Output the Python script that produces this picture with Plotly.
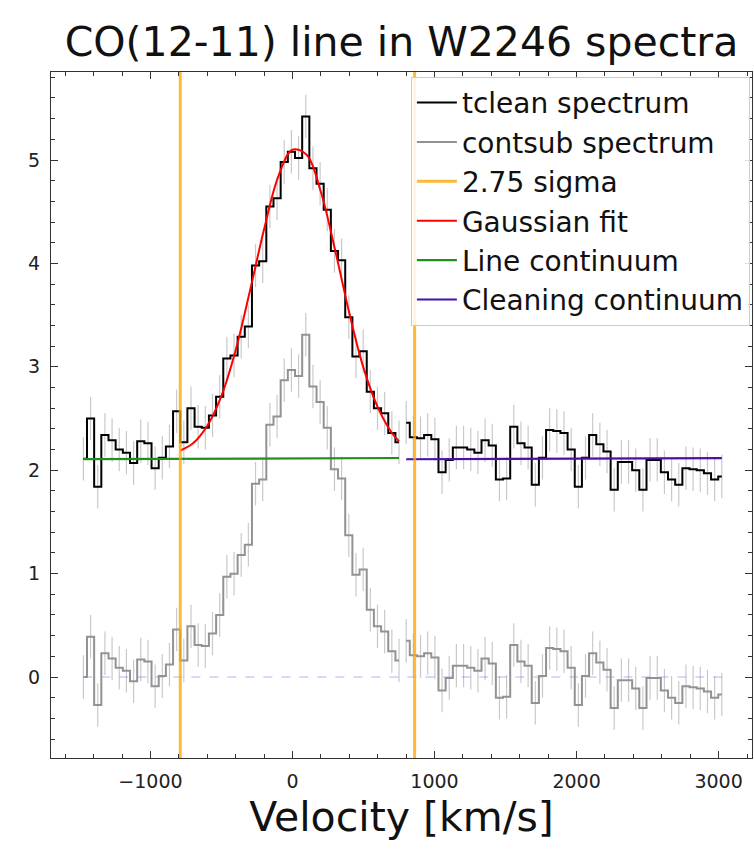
import plotly.graph_objects as go

# ---------------- data ----------------
# channel velocities [km/s] : line window piece and cleaning-continuum piece
vel_line = [-1472.0, -1421.5, -1371.0, -1320.5, -1270.0, -1219.5, -1169.0, -1118.5,
            -1068.0, -1017.5, -967.0, -916.5, -866.0, -815.5, -765.0, -714.5,
            -664.0, -613.5, -563.0, -512.5, -462.0, -411.5, -361.0, -310.5,
            -260.0, -209.5, -159.0, -108.5, -58.0, -7.5, 43.0, 93.5,
            144.0, 194.5, 245.0, 295.5, 346.0, 396.5, 447.0, 497.5,
            548.0, 598.5, 649.0, 699.5, 750.0]
vel_cont = [800.5, 851.0, 901.5, 952.0, 1002.5, 1053.0, 1103.5, 1154.0,
            1204.5, 1255.0, 1305.5, 1356.0, 1406.5, 1457.0, 1507.5, 1558.0,
            1608.5, 1659.0, 1709.5, 1760.0, 1810.5, 1861.0, 1911.5, 1962.0,
            2012.5, 2063.0, 2113.5, 2164.0, 2214.5, 2265.0, 2315.5, 2366.0,
            2416.5, 2467.0, 2517.5, 2568.0, 2618.5, 2669.0, 2719.5, 2770.0,
            2820.5, 2871.0, 2921.5, 2972.0, 3022.5]

tclean_line = [2.11, 2.50, 1.84, 2.34, 2.29, 2.20, 2.17, 2.07, 2.28, 2.26,
               2.02, 2.12, 2.23, 2.57, 2.27, 2.60, 2.42, 2.41, 2.53, 2.71,
               3.08, 3.11, 3.29, 3.39, 3.98, 4.02, 4.55, 4.63, 4.98, 5.08,
               5.02, 5.42, 4.92, 4.77, 4.52, 4.12, 4.03, 3.48, 3.10, 3.15,
               2.76, 2.60, 2.55, 2.36, 2.27]
tclean_cont = [2.46, 2.32, 2.31, 2.34, 2.30, 1.98, 2.10, 2.22, 2.22, 2.20,
               2.17, 2.29, 2.24, 1.91, 1.92, 2.42, 2.26, 2.22, 1.86, 2.12,
               2.39, 2.38, 2.36, 2.20, 1.84, 2.12, 2.34, 2.25, 2.18, 1.81,
               2.08, 2.08, 2.00, 1.81, 2.10, 2.10, 1.98, 1.91, 1.86, 2.02,
               2.01, 2.00, 1.97, 1.91, 1.94]

contsub_line = [0.00, 0.39, -0.27, 0.23, 0.18, 0.09, 0.06, -0.04, 0.17, 0.15,
                -0.09, 0.01, 0.12, 0.46, 0.16, 0.49, 0.31, 0.30, 0.42, 0.60,
                0.97, 1.00, 1.18, 1.28, 1.87, 1.91, 2.44, 2.52, 2.87, 2.97,
                2.91, 3.31, 2.81, 2.66, 2.41, 2.01, 1.92, 1.37, 0.99, 1.04,
                0.65, 0.49, 0.44, 0.25, 0.16]
contsub_cont = [0.35, 0.21, 0.20, 0.23, 0.19, -0.13, -0.01, 0.11, 0.11, 0.09,
                0.06, 0.18, 0.13, -0.20, -0.19, 0.31, 0.15, 0.11, -0.25, 0.01,
                0.28, 0.27, 0.25, 0.09, -0.27, 0.01, 0.23, 0.14, 0.07, -0.30,
                -0.03, -0.03, -0.11, -0.30, -0.01, -0.01, -0.13, -0.20, -0.25, -0.09,
                -0.10, -0.11, -0.14, -0.20, -0.17]

flux_err = 0.21                 # 1-sigma channel uncertainty
sigma_bounds = [-790, 860]      # 2.75 sigma line window

gauss_vel = [-790, -700, -600, -500, -400, -300, -200, -100, 0,
             100, 200, 300, 400, 500, 600, 700, 750]
gauss_flux = [2.19, 2.26, 2.43, 2.72, 3.16, 3.73, 4.33, 4.84, 5.10,
              5.05, 4.69, 4.13, 3.52, 2.99, 2.61, 2.36, 2.28]

linecont_vel = [-1472, 750]
linecont_flux = [2.107, 2.118]
cleancont_vel = [800.5, 3022.5]
cleancont_flux = [2.106, 2.117]
zero_level = 0.0

X_RANGE = [-1700, 3235]
Y_RANGE = [-0.783, 5.851]

# ---------------- styles ----------------
FONT = "DejaVu Sans"
ERR_COLOR = "rgba(120,120,120,0.4)"
ORANGE = "rgba(255,165,0,0.78)"

fig = go.Figure()

def errbars(x, y):
    fig.add_trace(go.Scatter(
        x=x, y=y, mode="markers", showlegend=False, hoverinfo="skip",
        marker=dict(size=1, color="rgba(0,0,0,0)"),
        error_y=dict(type="constant", value=flux_err, color=ERR_COLOR,
                     thickness=1.2, width=0)))

for xs, ys in [(vel_line, tclean_line), (vel_cont, tclean_cont),
               (vel_line, contsub_line), (vel_cont, contsub_cont)]:
    errbars(xs, ys)

# zero level of the continuum-subtracted spectrum
fig.add_trace(go.Scatter(
    x=[vel_line[0], vel_cont[-1]], y=[zero_level, zero_level], mode="lines",
    showlegend=False, hoverinfo="skip",
    line=dict(color="rgba(110,110,255,0.55)", width=1, dash="dash")))

# spectra (steps-mid)
fig.add_trace(go.Scatter(x=vel_line, y=tclean_line, mode="lines", name="tclean spectrum",
                         legendgroup="tc", legendrank=1,
                         line=dict(color="black", width=2, shape="hvh")))
fig.add_trace(go.Scatter(x=vel_cont, y=tclean_cont, mode="lines", name="tclean spectrum",
                         legendgroup="tc", showlegend=False,
                         line=dict(color="black", width=2, shape="hvh")))
fig.add_trace(go.Scatter(x=vel_line, y=contsub_line, mode="lines", name="contsub spectrum",
                         legendgroup="cs", legendrank=2,
                         line=dict(color="#929292", width=2, shape="hvh")))
fig.add_trace(go.Scatter(x=vel_cont, y=contsub_cont, mode="lines", name="contsub spectrum",
                         legendgroup="cs", showlegend=False,
                         line=dict(color="#929292", width=2, shape="hvh")))

fig.add_trace(go.Scatter(x=gauss_vel, y=gauss_flux, mode="lines", name="Gaussian fit",
                         legendrank=4, line=dict(color="red", width=2, shape="spline")))
fig.add_trace(go.Scatter(x=linecont_vel, y=linecont_flux, mode="lines", name="Line continuum",
                         legendrank=5, line=dict(color="#1f8f1f", width=2.2)))
fig.add_trace(go.Scatter(x=cleancont_vel, y=cleancont_flux, mode="lines",
                         name="Cleaning continuum", legendrank=6,
                         line=dict(color="#4a10a8", width=2.2)))

# 2.75 sigma boundaries (full axis height)
fig.add_trace(go.Scatter(
    x=[sigma_bounds[0], sigma_bounds[0], None, sigma_bounds[1], sigma_bounds[1]],
    y=[Y_RANGE[0], Y_RANGE[1], None, Y_RANGE[0], Y_RANGE[1]],
    mode="lines", name="2.75 sigma", legendrank=3,
    line=dict(color=ORANGE, width=3)))

axis_common = dict(
    showline=True, linecolor="#333", linewidth=1.2, mirror="ticks",
    ticks="inside", ticklen=7, tickwidth=1.2, tickcolor="#333",
    showgrid=False, zeroline=False,
    tickfont=dict(family=FONT, size=19, color="#222"),
    ticklabelstandoff=6,
)

fig.update_layout(
    width=754, height=849,
    margin=dict(l=51, r=2, t=72, b=91),
    paper_bgcolor="white", plot_bgcolor="white",
    font=dict(family=FONT, color="#111"),
    title=dict(text="CO(12-11) line in W2246 spectra", x=0.5, xref="paper",
               xanchor="center", y=1 - 42 / 849, yref="container", yanchor="middle",
               font=dict(family=FONT, size=41, color="#111")),
    xaxis=dict(range=X_RANGE, dtick=1000, tick0=0,
               minor=dict(dtick=200, ticks="inside", ticklen=4, tickcolor="#333"),
               title=dict(text="Velocity [km/s]", standoff=11,
                          font=dict(family=FONT, size=41, color="#111")),
               **axis_common),
    yaxis=dict(range=Y_RANGE, dtick=1, tick0=0,
               minor=dict(dtick=0.2, ticks="inside", ticklen=4, tickcolor="#333"),
               **axis_common),
    legend=dict(x=0.997, xanchor="right", y=0.993, yanchor="top",
                bgcolor="rgba(255,255,255,0.85)", bordercolor="#cccccc", borderwidth=1,
                font=dict(family=FONT, size=28, color="#111"),
                tracegroupgap=0, itemwidth=40),
    showlegend=True,
)

fig.write_html("out.html")
